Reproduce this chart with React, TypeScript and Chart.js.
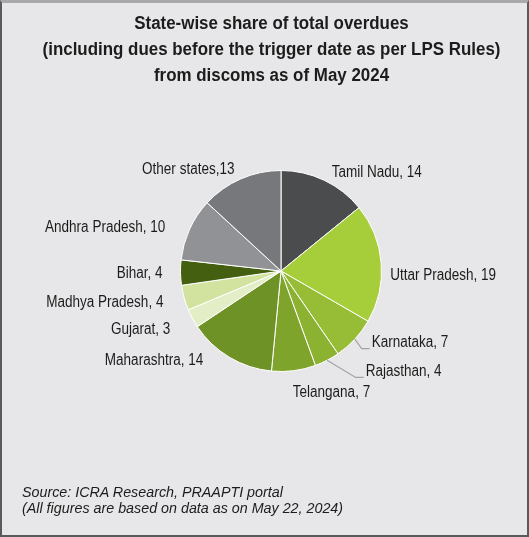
import { useEffect, useRef } from 'react';
import Chart from 'chart.js/auto';

const states = [
  'Tamil Nadu',
  'Uttar Pradesh',
  'Karnataka',
  'Rajasthan',
  'Telangana',
  'Maharashtra',
  'Gujarat',
  'Madhya Pradesh',
  'Bihar',
  'Andhra Pradesh',
  'Other states',
];

const overdueShare = [14, 19, 7, 4, 7, 14, 3, 4, 4, 10, 13];

const sliceColors = [
  '#4b4c4e',
  '#a6cd3a',
  '#97bd36',
  '#8cb232',
  '#7ea42b',
  '#6f9226',
  '#e4eec6',
  '#d2e3a0',
  '#455f10',
  '#919296',
  '#77787c',
];

// label nudges from the default outside anchor, [dx, dy]
const labelNudge: [number, number][] = [
  [4, 0],
  [1, 13.5],
  [11, -2],
  [35, 4],
  [-2, 14],
  [-22, -3],
  [-15, 7],
  [-13, 2.5],
  [-10, 1],
  [-17, 2],
  [-3, -2.5],
];

const withLeader = new Set(['Karnataka', 'Rajasthan']);

const FONT = '"Liberation Sans", Arial, sans-serif';
// no narrow face installed, so squeeze the regular one
const NARROW = 0.845;

function labelText(i: number) {
  const sep = states[i] === 'Other states' ? ',' : ', ';
  return `${states[i]}${sep}${overdueShare[i]}`;
}

const sliceLabels = {
  id: 'sliceLabels',
  afterDatasetsDraw(chart: Chart) {
    const { ctx } = chart;
    const meta = chart.getDatasetMeta(0);
    ctx.save();
    ctx.font = `16px ${FONT}`;
    ctx.fillStyle = '#1c1c1c';
    ctx.textBaseline = 'middle';
    meta.data.forEach((el: any, i: number) => {
      const { x, y, startAngle, endAngle, outerRadius } = el.getProps(
        ['x', 'y', 'startAngle', 'endAngle', 'outerRadius'],
        true,
      );
      const mid = (startAngle + endAngle) / 2;
      const cos = Math.cos(mid);
      const sin = Math.sin(mid);
      const r = outerRadius + 8;
      const lx = x + cos * r + labelNudge[i][0];
      const ly = y + sin * r + labelNudge[i][1];
      ctx.save();
      ctx.translate(lx, ly);
      ctx.scale(NARROW, 1);
      ctx.textAlign = cos >= 0 ? 'left' : 'right';
      ctx.fillText(labelText(i), 0, 0);
      ctx.restore();
      if (withLeader.has(states[i])) {
        ctx.beginPath();
        ctx.strokeStyle = '#a3a3a3';
        ctx.lineWidth = 1.2;
        ctx.moveTo(x + cos * outerRadius, y + sin * outerRadius);
        ctx.lineTo(lx - 10, ly + 6);
        ctx.lineTo(lx - 2, ly + 6);
        ctx.stroke();
      }
    });
    ctx.restore();
  },
};

export default function App() {
  const canvasRef = useRef<HTMLCanvasElement>(null);

  useEffect(() => {
    const canvas = canvasRef.current;
    if (!canvas) return;
    const chart = new Chart(canvas, {
      type: 'pie',
      data: {
        labels: states,
        datasets: [
          {
            data: overdueShare,
            backgroundColor: sliceColors,
            borderColor: '#ffffff',
            borderWidth: 1,
            hoverOffset: 0,
          },
        ],
      },
      options: {
        responsive: false,
        animation: false,
        layout: { padding: { left: 180, right: 147, top: 170, bottom: 165 } },
        plugins: {
          legend: { display: false },
          tooltip: { enabled: false },
          title: { display: false },
        },
      },
      plugins: [sliceLabels],
    });
    return () => chart.destroy();
  }, []);

  return (
    <div
      style={{
        position: 'fixed',
        left: 0,
        top: 0,
        width: 529,
        height: 537,
        background: '#e7e7e9',
        fontFamily: FONT,
        color: '#1c1c1c',
      }}
    >
      <canvas
        ref={canvasRef}
        width={529}
        height={537}
        style={{ position: 'absolute', left: 0, top: 0 }}
      />
      <div
        style={{
          position: 'absolute',
          left: 7,
          top: 10,
          width: 529,
          textAlign: 'center',
          fontWeight: 'bold',
          fontSize: 18,
          lineHeight: '26px',
          transform: 'scaleX(0.94)',
          transformOrigin: 'center',
        }}
      >
        State-wise share of total overdues
        <br />
        (including dues before the trigger date as per LPS Rules)
        <br />
        from discoms as of May 2024
      </div>
      <div
        style={{
          position: 'absolute',
          left: 22,
          top: 484,
          fontStyle: 'italic',
          fontSize: 14.3,
          lineHeight: '16px',
        }}
      >
        Source: ICRA Research, PRAAPTI portal
        <br />
        (All figures are based on data as on May 22, 2024)
      </div>
      <div
        style={{
          position: 'absolute',
          left: 0,
          top: 0,
          width: 529,
          height: 537,
          boxSizing: 'border-box',
          borderTop: '3px solid #a9a9a9',
          borderLeft: '2px solid #5a5a5a',
          borderRight: '2px solid #5a5a5a',
          borderBottom: '2px solid #5a5a5a',
          pointerEvents: 'none',
        }}
      />
    </div>
  );
}
